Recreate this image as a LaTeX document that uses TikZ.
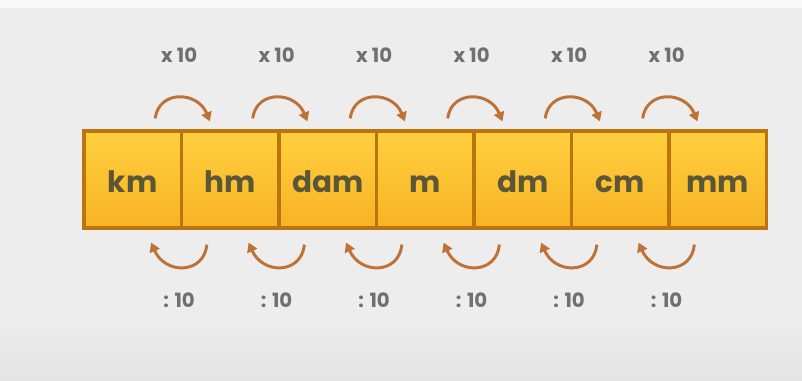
\documentclass[tikz,border=0pt]{standalone}
\usepackage{fontspec}
\setmainfont{Poppins}
\usetikzlibrary{arrows.meta,positioning}

\definecolor{backgr}{HTML}{EDEDED}
\definecolor{backlow}{HTML}{E3E3E3}
\definecolor{boxedge}{HTML}{BC740F}
\definecolor{boxtop}{HTML}{FFD03F}
\definecolor{boxbot}{HTML}{F7B324}
\definecolor{unittext}{HTML}{5B5638}
\definecolor{arrowc}{HTML}{BF7136}
\definecolor{factorc}{HTML}{707070}

\begin{document}
\begin{tikzpicture}[x=0.25mm,y=0.25mm,>={Triangle[length=6.5pt,width=7.5pt]},
    node distance=24.375mm,
    unit/.style={rectangle,draw=boxedge,line width=2.3pt,top color=boxtop,bottom color=boxbot,
        minimum width=24.375mm,minimum height=24.25mm,inner sep=0pt,text=unittext,
        text height=17.8pt,text depth=0pt,
        font=\bfseries\fontsize{21}{24}\selectfont},
    factor/.style={text=factorc,font=\bfseries\fontsize{14}{16}\selectfont},
    turn/.style={draw=arrowc,line width=2.1pt,->}]

    % background
    \fill[backgr] (0,0) rectangle (802,-381);
    \fill[white!60!backgr] (0,0) rectangle (802,-8);
    \shade[top color=backgr,bottom color=backlow] (0,-315) rectangle (802,-381);
    \useasboundingbox (0,0) rectangle (802,-381);

    \node[unit] (km)  at (132.75,-179.5) {km};
    \node[unit] (hm)  [right of=km]  {hm};
    \node[unit] (dam) [right of=hm]  {dam};
    \node[unit] (m)   [right of=dam] {m};
    \node[unit] (dm)  [right of=m]   {dm};
    \node[unit] (cm)  [right of=dm]  {cm};
    \node[unit] (mm)  [right of=cm]  {mm};

    \foreach \a/\b in {km/hm,hm/dam,dam/m,m/dm,dm/cm,cm/mm}{
        \node[factor] (up\a) at ([shift={(-4,74)}]\a.north east) {x 10};
        \node[factor] (dn\a) at ([shift={(-4,-71)}]\a.south east) {: 10};
        \draw[turn] ([shift={(-28,11)}]\a.north east) .. controls +(4,29) and +(-12,30) .. ([shift={(30,8)}]\b.north west);
        \draw[turn] ([shift={(27,-15)}]\b.south west) .. controls +(-3,-30) and +(14,-32) .. ([shift={(-32,-13)}]\a.south east);
    }
\end{tikzpicture}
\end{document}
